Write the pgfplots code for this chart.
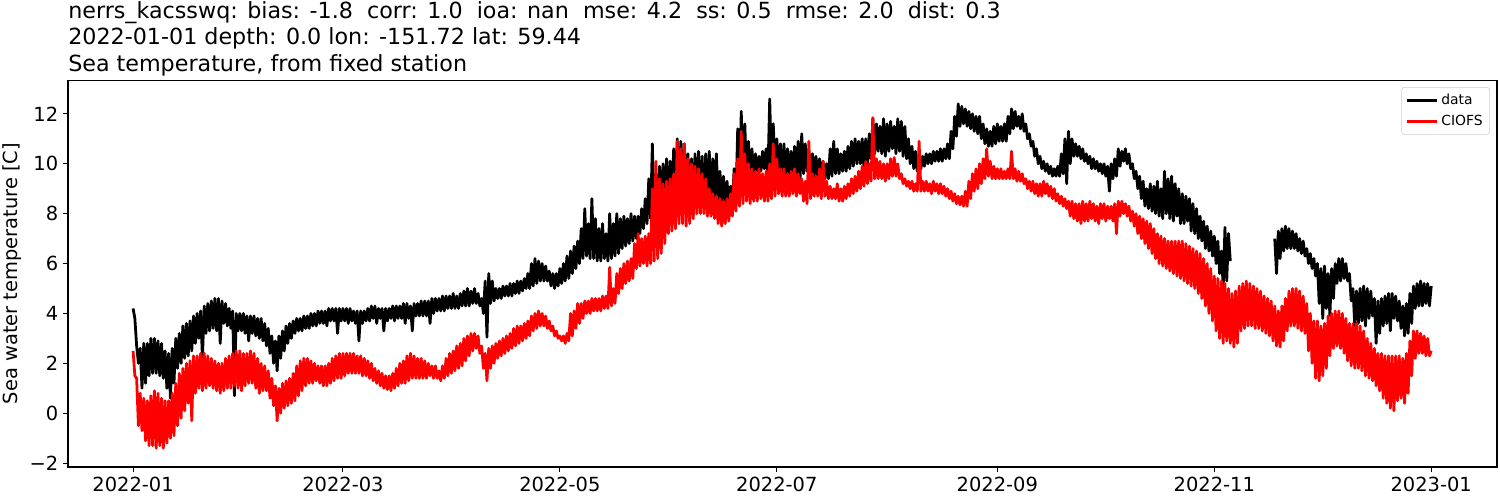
\documentclass[border=0pt]{standalone}
\usepackage{pgfplots}
\pgfplotsset{compat=1.18}
\usepackage{fontspec}
\setmainfont{DejaVu Sans}

% 1 px of the reference = 0.72pt (1500 px -> 1080pt)
% x = day of 2022; each day gives the top and the bottom of the tidal band
\begin{document}
\begin{tikzpicture}
\path (0,0) rectangle (1080pt,360pt);
\begin{axis}[
    at={(48.96pt,23.76pt)}, anchor=south west,
    scale only axis, clip mode=individual,
    width=1028.9pt, height=278.6pt,
    xmin=-18.3, xmax=383.5,
    ymin=-2.155, ymax=13.355,
    xtick={0,59,120,181,243,304,365},
    xticklabels={2022-01,2022-03,2022-05,2022-07,2022-09,2022-11,2023-01},
    ytick={-2,0,2,4,6,8,10,12},
    yticklabels={−2,0,2,4,6,8,10,12},
    tick label style={font=\fontsize{14}{16}\selectfont},
    tick align=outside, major tick length=3.5pt,
    xtick pos=bottom, ytick pos=left,
    every tick/.style={black, line width=0.8pt},
    axis line style={line width=0.8pt},
    ylabel={Sea water temperature [C]},
    ylabel style={font=\fontsize{14}{16}\selectfont, at={(rel axis cs:-0.0392,0.5)}, anchor=center},
    legend style={at={(0.995,0.982)}, anchor=north east,
      font=\fontsize{10}{12}\selectfont, draw=black!20, rounded corners=2pt,
      row sep=2pt, inner xsep=3pt, inner ysep=3pt},
    legend cell align=left,
    legend image code/.code={\draw[#1] (0pt,0pt) -- (21.6pt,0pt);},
    every axis plot/.append style={line width=2pt, line join=round},
  ]
% data (observed)
\addplot[black] coordinates {
(0,4.2) (0.5,3.8) (1,2.7) (1.5,2.0) (2,2.6) (2.5,1.0) (3,2.8) (3.5,1.2) (4,2.8) (4.5,1.5)
(5,3.0) (5.5,1.6) (6,3.0) (6.5,1.6) (7,2.9) (7.5,1.5) (8,2.8) (8.5,1.4) (9,2.5) (9.5,1.0)
(10,2.4) (10.5,0.6) (11,2.6) (11.5,1.2) (12,3.0) (12.5,1.8) (13,3.2) (13.5,2.0) (14,3.5) (14.5,2.2)
(15,3.6) (15.5,2.3) (16,3.7) (16.5,2.5) (17,3.9) (17.5,2.8) (18,4.0) (18.5,3.0) (19,4.1) (19.5,2.2)
(20,4.3) (20.5,3.2) (21,4.4) (21.5,3.3) (22,4.5) (22.5,3.4) (23,4.6) (23.5,3.3) (24,4.6) (24.5,2.8)
(25,4.5) (25.5,3.6) (26,4.4) (26.5,3.5) (27,4.2) (27.5,3.4) (28,4.1) (28.5,0.7) (29,4.0) (29.5,3.3)
(30,4.0) (30.5,3.3) (31,4.0) (31.5,3.2) (32,3.9) (32.5,2.9) (33,3.9) (33.5,3.2) (34,3.9) (34.5,3.1)
(35,3.8) (35.5,3.0) (36,3.8) (36.5,2.9) (37,3.6) (37.5,2.7) (38,3.4) (38.5,2.4) (39,3.1) (39.5,2.0)
(40,2.9) (40.5,1.7) (41,3.1) (41.5,2.2) (42,3.3) (42.5,2.5) (43,3.5) (43.5,2.8) (44,3.6) (44.5,3.0)
(45,3.7) (45.5,3.2) (46,3.8) (46.5,3.3) (47,3.8) (47.5,3.3) (48,3.9) (48.5,3.4) (49,3.9) (49.5,3.4)
(50,4.0) (50.5,3.5) (51,4.0) (51.5,3.5) (52,4.1) (52.5,3.6) (53,4.1) (53.5,3.6) (54,4.1) (54.5,3.5)
(55,4.2) (55.5,3.7) (56,4.2) (56.5,3.7) (57,4.2) (57.5,3.2) (58,4.2) (58.5,3.7) (59,4.2) (59.5,3.7)
(60,4.2) (60.5,3.6) (61,4.2) (61.5,3.7) (62,4.1) (62.5,3.6) (63,4.1) (63.5,2.9) (64,4.1) (64.5,3.6)
(65,4.1) (65.5,3.7) (66,4.2) (66.5,3.7) (67,4.3) (67.5,3.8) (68,4.3) (68.5,3.6) (69,4.2) (69.5,3.8)
(70,4.2) (70.5,3.3) (71,4.2) (71.5,3.7) (72,4.2) (72.5,3.8) (73,4.3) (73.5,3.7) (74,4.3) (74.5,3.8)
(75,4.3) (75.5,3.8) (76,4.4) (76.5,3.6) (77,4.4) (77.5,3.8) (78,4.3) (78.5,3.3) (79,4.4) (79.5,3.9)
(80,4.4) (80.5,3.9) (81,4.5) (81.5,3.9) (82,4.5) (82.5,3.9) (83,4.5) (83.5,3.6) (84,4.6) (84.5,4.0)
(85,4.6) (85.5,4.1) (86,4.6) (86.5,4.1) (87,4.7) (87.5,4.1) (88,4.7) (88.5,4.2) (89,4.7) (89.5,4.2)
(90,4.8) (90.5,4.2) (91,4.7) (91.5,4.2) (92,4.8) (92.5,4.3) (93,4.9) (93.5,4.3) (94,5.0) (94.5,4.3)
(95,4.9) (95.5,4.4) (96,5.0) (96.5,4.4) (97,4.8) (97.5,4.3) (98,4.6) (98.5,4.0) (99,5.3) (99.5,3.05)
(100,5.6) (100.5,4.4) (101,5.3) (101.5,4.5) (102,5.0) (102.5,4.6) (103,5.0) (103.5,4.6) (104,5.1) (104.5,4.7)
(105,5.1) (105.5,4.7) (106,5.2) (106.5,4.7) (107,5.2) (107.5,4.8) (108,5.3) (108.5,4.8) (109,5.3) (109.5,4.9)
(110,5.4) (110.5,5.0) (111,5.6) (111.5,5.0) (112,6.0) (112.5,5.1) (113,6.2) (113.5,5.2) (114,6.1) (114.5,5.3)
(115,6.0) (115.5,5.3) (116,5.9) (116.5,5.3) (117,5.7) (117.5,5.1) (118,5.6) (118.5,5.0) (119,5.6) (119.5,5.1)
(120,5.8) (120.5,5.2) (121,6.0) (121.5,5.3) (122,6.3) (122.5,5.4) (123,6.5) (123.5,5.6) (124,6.7) (124.5,5.8)
(125,6.9) (125.5,6.0) (126,7.4) (126.5,6.2) (127,8.2) (127.5,6.3) (128,7.6) (128.5,6.2) (129,8.6) (129.5,6.2)
(130,7.8) (130.5,6.1) (131,7.4) (131.5,6.1) (132,7.6) (132.5,6.2) (133,7.2) (133.5,6.1) (134,8.0) (134.5,6.2)
(135,7.6) (135.5,6.3) (136,8.0) (136.5,6.4) (137,7.8) (137.5,6.6) (138,7.9) (138.5,6.7) (139,7.8) (139.5,6.8)
(140,8.0) (140.5,6.9) (141,7.9) (141.5,7.0) (142,7.9) (142.5,7.2) (143,8.2) (143.5,7.4) (144,8.6) (144.5,7.6)
(145,9.4) (145.5,7.8) (146,10.8) (146.5,7.8) (147,9.6) (147.5,8.0) (148,9.9) (148.5,8.2) (149,10.0) (149.5,8.3)
(150,10.2) (150.5,8.4) (151,10.1) (151.5,8.5) (152,10.6) (152.5,8.6) (153,11.0) (153.5,8.7) (154,10.9) (154.5,8.8)
(155,10.8) (155.5,8.7) (156,10.4) (156.5,8.5) (157,10.2) (157.5,8.3) (158,10.4) (158.5,8.2) (159,10.5) (159.5,8.2)
(160,10.3) (160.5,8.3) (161,10.4) (161.5,8.4) (162,10.5) (162.5,8.5) (163,10.2) (163.5,8.6) (164,10.4) (164.5,8.5)
(165,9.7) (165.5,8.5) (166,9.5) (166.5,8.4) (167,9.3) (167.5,8.3) (168,9.1) (168.5,8.3) (169,9.8) (169.5,8.5)
(170,11.4) (170.5,8.9) (171,12.1) (171.5,9.2) (172,11.6) (172.5,9.4) (173,10.9) (173.5,9.6) (174,10.6) (174.5,9.6)
(175,10.4) (175.5,9.7) (176,10.3) (176.5,9.7) (177,10.5) (177.5,9.8) (178,10.6) (178.5,9.6) (179,12.6) (179.5,9.7)
(180,11.6) (180.5,9.8) (181,11.0) (181.5,9.4) (182,10.8) (182.5,9.2) (183,10.8) (183.5,9.5) (184,10.6) (184.5,9.6)
(185,10.5) (185.5,9.5) (186,10.7) (186.5,9.4) (187,10.9) (187.5,9.3) (188,11.2) (188.5,9.6) (189,10.8) (189.5,9.7)
(190,10.5) (190.5,9.6) (191,10.4) (191.5,9.5) (192,10.3) (192.5,9.5) (193,10.2) (193.5,9.5) (194,10.1) (194.5,9.4)
(195,10.0) (195.5,9.4) (196,10.6) (196.5,9.5) (197,10.9) (197.5,9.6) (198,10.6) (198.5,9.6) (199,10.4) (199.5,9.7)
(200,10.5) (200.5,9.7) (201,10.7) (201.5,9.8) (202,10.9) (202.5,9.9) (203,11.0) (203.5,10.0) (204,10.9) (204.5,10.0)
(205,11.0) (205.5,9.8) (206,11.0) (206.5,9.9) (207,11.2) (207.5,10.2) (208,11.8) (208.5,10.4) (209,11.6) (209.5,10.5)
(210,11.5) (210.5,10.4) (211,11.8) (211.5,10.3) (212,11.6) (212.5,10.5) (213,11.7) (213.5,10.6) (214,11.5) (214.5,10.4)
(215,11.8) (215.5,10.5) (216,11.7) (216.5,10.3) (217,11.5) (217.5,10.2) (218,11.0) (218.5,10.0) (219,10.7) (219.5,9.8)
(220,10.5) (220.5,9.7) (221,10.4) (221.5,9.8) (222,10.3) (222.5,9.9) (223,10.4) (223.5,10.0) (224,10.4) (224.5,10.0)
(225,10.5) (225.5,10.1) (226,10.5) (226.5,10.1) (227,10.6) (227.5,10.1) (228,10.6) (228.5,10.2) (229,10.8) (229.5,10.2)
(230,11.3) (230.5,10.6) (231,11.9) (231.5,11.1) (232,12.4) (232.5,11.5) (233,12.3) (233.5,11.6) (234,12.2) (234.5,11.5)
(235,12.1) (235.5,11.4) (236,12.0) (236.5,11.3) (237,11.9) (237.5,11.2) (238,11.9) (238.5,11.0) (239,11.6) (239.5,10.8)
(240,11.4) (240.5,10.7) (241,11.3) (241.5,10.7) (242,11.5) (242.5,10.8) (243,11.6) (243.5,10.9) (244,11.5) (244.5,10.9)
(245,11.6) (245.5,10.9) (246,11.9) (246.5,11.2) (247,12.2) (247.5,11.4) (248,12.1) (248.5,11.5) (249,11.9) (249.5,11.4)
(250,12.0) (250.5,11.3) (251,11.6) (251.5,11.0) (252,11.2) (252.5,10.7) (253,10.9) (253.5,10.3) (254,10.6) (254.5,10.0)
(255,10.3) (255.5,9.8) (256,10.1) (256.5,9.7) (257,10.0) (257.5,9.6) (258,9.9) (258.5,9.5) (259,9.8) (259.5,9.5)
(260,9.9) (260.5,9.5) (261,10.4) (261.5,9.6) (262,11.0) (262.5,9.2) (263,11.3) (263.5,10.0) (264,11.0) (264.5,10.3)
(265,10.8) (265.5,10.3) (266,10.7) (266.5,10.2) (267,10.6) (267.5,10.1) (268,10.4) (268.5,10.0) (269,10.3) (269.5,9.8)
(270,10.2) (270.5,9.8) (271,10.1) (271.5,9.7) (272,10.0) (272.5,9.6) (273,10.0) (273.5,9.5) (274,9.9) (274.5,8.9)
(275,10.0) (275.5,9.4) (276,10.2) (276.5,9.5) (277,10.6) (277.5,9.9) (278,10.5) (278.5,10.1) (279,10.6) (279.5,10.0)
(280,10.4) (280.5,9.8) (281,10.0) (281.5,9.4) (282,9.7) (282.5,9.0) (283,9.5) (283.5,8.6) (284,9.3) (284.5,8.3)
(285,9.0) (285.5,8.2) (286,9.2) (286.5,8.1) (287,9.1) (287.5,8.0) (288,9.3) (288.5,7.9) (289,9.0) (289.5,7.8)
(290,9.7) (290.5,8.0) (291,9.4) (291.5,7.8) (292,9.5) (292.5,7.7) (293,9.2) (293.5,7.9) (294,9.0) (294.5,7.6)
(295,8.8) (295.5,7.6) (296,8.7) (296.5,7.7) (297,8.6) (297.5,7.3) (298,8.4) (298.5,7.2) (299,8.2) (299.5,7.0)
(300,7.9) (300.5,6.9) (301,7.7) (301.5,6.6) (302,7.5) (302.5,6.5) (303,7.3) (303.5,6.3) (304,7.1) (304.5,6.0)
(305,6.9) (305.5,5.6) (306,6.5) (306.5,5.05) (307,7.45) (307.5,5.3) (308,7.2) (308.5,6.1)
};
\addlegendentry{data}
\addplot[black, forget plot] coordinates {
(321,7.0) (321.5,5.6) (322,7.3) (322.5,6.2) (323,7.4) (323.5,6.5) (324,7.5) (324.5,6.6)
(325,7.4) (325.5,6.6) (326,7.3) (326.5,6.6) (327,7.2) (327.5,6.5) (328,7.0) (328.5,6.4) (329,6.9) (329.5,6.3)
(330,6.6) (330.5,6.0) (331,6.4) (331.5,5.8) (332,6.2) (332.5,5.5) (333,6.0) (333.5,4.4) (334,5.8) (334.5,3.8)
(335,5.9) (335.5,4.2) (336,5.6) (336.5,3.9) (337,5.8) (337.5,4.6) (338,6.0) (338.5,5.2) (339,6.2) (339.5,5.3)
(340,6.2) (340.5,5.4) (341,6.0) (341.5,5.3) (342,5.6) (342.5,4.5) (343,5.0) (343.5,3.5) (344,4.9) (344.5,3.6)
(345,5.0) (345.5,3.7) (346,5.1) (346.5,3.5) (347,5.0) (347.5,3.8) (348,4.9) (348.5,3.9) (349,4.6) (349.5,2.8)
(350,4.5) (350.5,3.2) (351,4.6) (351.5,3.5) (352,4.7) (352.5,3.6) (353,4.8) (353.5,3.3) (354,4.8) (354.5,3.8)
(355,4.7) (355.5,3.7) (356,4.5) (356.5,3.4) (357,4.3) (357.5,3.1) (358,4.4) (358.5,3.2) (359,4.8) (359.5,3.6)
(360,5.1) (360.5,4.2) (361,5.2) (361.5,4.3) (362,5.3) (362.5,4.3) (363,5.2) (363.5,4.4) (364,5.2) (364.5,4.3) (365,5.1)
};
% CIOFS model
\addplot[red] coordinates {
(0,2.5) (0.5,1.5) (1,1.4) (1.5,-0.5) (2,0.8) (2.5,-0.7) (3,0.6) (3.5,-1.1) (4,0.5) (4.5,-1.3)
(5,0.7) (5.5,-1.3) (6,0.9) (6.5,-1.4) (7,0.8) (7.5,-1.3) (8,0.6) (8.5,-1.4) (9,0.5) (9.5,-1.2)
(10,0.5) (10.5,-1.0) (11,0.8) (11.5,-0.9) (12,1.2) (12.5,-0.5) (13,1.6) (13.5,-0.2) (14,1.8) (14.5,0.1)
(15,2.0) (15.5,0.4) (16,2.1) (16.5,-0.3) (17,2.3) (17.5,0.8) (18,2.3) (18.5,1.0) (19,2.4) (19.5,0.9)
(20,2.4) (20.5,1.0) (21,2.3) (21.5,1.1) (22,2.2) (22.5,1.0) (23,2.1) (23.5,0.9) (24,2.0) (24.5,0.8)
(25,2.0) (25.5,0.9) (26,2.2) (26.5,1.0) (27,2.3) (27.5,1.0) (28,2.4) (28.5,1.1) (29,2.5) (29.5,1.0)
(30,2.5) (30.5,0.9) (31,2.4) (31.5,1.1) (32,2.4) (32.5,1.2) (33,2.5) (33.5,1.2) (34,2.4) (34.5,1.0)
(35,2.2) (35.5,0.8) (36,2.0) (36.5,0.9) (37,1.9) (37.5,0.9) (38,1.7) (38.5,0.6) (39,1.4) (39.5,0.3)
(40,1.1) (40.5,-0.3) (41,1.0) (41.5,0.0) (42,1.2) (42.5,0.2) (43,1.3) (43.5,0.3) (44,1.4) (44.5,0.4)
(45,1.6) (45.5,0.5) (46,1.9) (46.5,0.7) (47,2.1) (47.5,0.9) (48,2.2) (48.5,1.1) (49,2.2) (49.5,1.2)
(50,2.1) (50.5,1.2) (51,2.0) (51.5,1.3) (52,1.9) (52.5,1.2) (53,1.9) (53.5,1.1) (54,1.9) (54.5,1.1)
(55,2.0) (55.5,1.2) (56,2.2) (56.5,1.3) (57,2.3) (57.5,1.4) (58,2.4) (58.5,1.4) (59,2.4) (59.5,1.5)
(60,2.4) (60.5,1.6) (61,2.4) (61.5,1.6) (62,2.4) (62.5,1.6) (63,2.3) (63.5,1.6) (64,2.3) (64.5,1.5)
(65,2.2) (65.5,1.5) (66,2.1) (66.5,1.4) (67,2.0) (67.5,1.3) (68,1.8) (68.5,1.2) (69,1.7) (69.5,1.1)
(70,1.6) (70.5,1.0) (71,1.5) (71.5,0.95) (72,1.5) (72.5,0.9) (73,1.6) (73.5,1.0) (74,1.8) (74.5,1.1)
(75,2.0) (75.5,1.2) (76,2.1) (76.5,1.2) (77,2.3) (77.5,1.3) (78,2.4) (78.5,1.4) (79,2.3) (79.5,1.4)
(80,2.2) (80.5,1.4) (81,2.2) (81.5,1.4) (82,2.1) (82.5,1.4) (83,2.0) (83.5,1.5) (84,1.9) (84.5,1.4)
(85,1.9) (85.5,1.4) (86,1.7) (86.5,1.3) (87,1.9) (87.5,1.4) (88,2.2) (88.5,1.5) (89,2.4) (89.5,1.6)
(90,2.5) (90.5,1.7) (91,2.7) (91.5,1.8) (92,2.8) (92.5,1.9) (93,3.0) (93.5,2.1) (94,3.1) (94.5,2.3)
(95,3.2) (95.5,2.5) (96,3.2) (96.5,2.6) (97,3.1) (97.5,2.4) (98,2.7) (98.5,1.8) (99,2.4) (99.5,1.3)
(100,2.6) (100.5,1.8) (101,2.7) (101.5,2.0) (102,2.8) (102.5,2.2) (103,2.9) (103.5,2.3) (104,3.0) (104.5,2.4)
(105,3.1) (105.5,2.5) (106,3.2) (106.5,2.6) (107,3.4) (107.5,2.7) (108,3.5) (108.5,2.8) (109,3.5) (109.5,2.9)
(110,3.6) (110.5,3.0) (111,3.7) (111.5,3.1) (112,3.9) (112.5,3.3) (113,4.0) (113.5,3.4) (114,4.1) (114.5,3.5)
(115,4.0) (115.5,3.5) (116,3.9) (116.5,3.4) (117,3.7) (117.5,3.3) (118,3.5) (118.5,3.1) (119,3.3) (119.5,3.0)
(120,3.1) (120.5,2.9) (121,3.1) (121.5,2.8) (122,3.2) (122.5,2.9) (123,4.0) (123.5,3.1) (124,4.1) (124.5,3.4)
(125,4.4) (125.5,3.6) (126,4.4) (126.5,3.8) (127,4.5) (127.5,4.0) (128,4.5) (128.5,4.0) (129,4.6) (129.5,4.1)
(130,4.6) (130.5,4.1) (131,4.6) (131.5,4.1) (132,4.7) (132.5,4.2) (133,4.7) (133.5,4.2) (134,5.85) (134.5,4.3)
(135,5.0) (135.5,4.4) (136,5.6) (136.5,4.8) (137,5.8) (137.5,5.0) (138,6.0) (138.5,5.2) (139,6.1) (139.5,5.3)
(140,6.2) (140.5,5.4) (141,6.8) (141.5,5.8) (142,7.2) (142.5,5.9) (143,7.0) (143.5,6.0) (144,7.1) (144.5,5.9)
(145,7.2) (145.5,6.0) (146,9.0) (146.5,6.1) (147,10.1) (147.5,6.2) (148,9.4) (148.5,6.4) (149,9.2) (149.5,6.8)
(150,9.3) (150.5,7.2) (151,9.4) (151.5,7.3) (152,9.6) (152.5,7.4) (153,10.9) (153.5,7.6) (154,10.6) (154.5,7.6)
(155,10.8) (155.5,7.5) (156,10.2) (156.5,7.6) (157,10.0) (157.5,7.8) (158,9.9) (158.5,8.0) (159,9.8) (159.5,8.0)
(160,9.6) (160.5,8.0) (161,9.4) (161.5,7.9) (162,9.0) (162.5,7.9) (163,8.8) (163.5,7.8) (164,8.7) (164.5,7.6)
(165,8.6) (165.5,7.5) (166,8.5) (166.5,7.6) (167,8.6) (167.5,7.7) (168,8.8) (168.5,7.9) (169,9.6) (169.5,8.1)
(170,10.2) (170.5,8.3) (171,11.3) (171.5,8.4) (172,10.4) (172.5,8.5) (173,10.0) (173.5,8.4) (174,9.8) (174.5,8.5)
(175,9.7) (175.5,8.5) (176,9.8) (176.5,8.6) (177,9.6) (177.5,8.5) (178,9.7) (178.5,8.5) (179,10.0) (179.5,8.6)
(180,10.8) (180.5,8.7) (181,10.2) (181.5,8.8) (182,9.8) (182.5,8.7) (183,9.8) (183.5,8.7) (184,9.6) (184.5,8.7)
(185,9.7) (185.5,8.8) (186,9.8) (186.5,8.7) (187,9.6) (187.5,8.8) (188,9.4) (188.5,8.5) (189,9.3) (189.5,8.4)
(190,10.9) (190.5,8.6) (191,9.6) (191.5,8.7) (192,9.5) (192.5,8.7) (193,9.8) (193.5,8.6) (194,10.1) (194.5,8.7)
(195,9.3) (195.5,8.6) (196,9.1) (196.5,8.6) (197,9.0) (197.5,8.6) (198,9.2) (198.5,8.5) (199,9.0) (199.5,8.5)
(200,9.1) (200.5,8.6) (201,9.2) (201.5,8.7) (202,9.4) (202.5,8.8) (203,9.5) (203.5,8.9) (204,9.7) (204.5,9.0)
(205,9.9) (205.5,9.1) (206,10.1) (206.5,9.2) (207,10.0) (207.5,9.3) (208,11.85) (208.5,9.4) (209,10.2) (209.5,9.4)
(210,10.1) (210.5,9.4) (211,10.0) (211.5,9.3) (212,10.0) (212.5,9.4) (213,10.2) (213.5,9.5) (214,10.25) (214.5,9.5)
(215,10.0) (215.5,9.4) (216,9.6) (216.5,9.2) (217,9.4) (217.5,9.1) (218,9.3) (218.5,9.0) (219,9.3) (219.5,8.9)
(220,9.2) (220.5,8.9) (221,10.9) (221.5,8.9) (222,9.3) (222.5,8.9) (223,9.3) (223.5,8.9) (224,9.2) (224.5,8.8)
(225,9.3) (225.5,8.9) (226,9.2) (226.5,8.8) (227,9.2) (227.5,8.8) (228,9.1) (228.5,8.7) (229,9.0) (229.5,8.6)
(230,8.9) (230.5,8.5) (231,8.8) (231.5,8.4) (232,8.7) (232.5,8.35) (233,8.7) (233.5,8.3) (234,8.9) (234.5,8.3)
(235,9.3) (235.5,8.6) (236,9.6) (236.5,8.9) (237,9.8) (237.5,9.0) (238,10.0) (238.5,9.2) (239,10.2) (239.5,9.4)
(240,10.6) (240.5,9.5) (241,10.1) (241.5,9.4) (242,9.9) (242.5,9.4) (243,9.8) (243.5,9.4) (244,9.8) (244.5,9.4)
(245,9.7) (245.5,9.4) (246,9.8) (246.5,9.4) (247,10.5) (247.5,9.4) (248,9.8) (248.5,9.3) (249,9.7) (249.5,9.3)
(250,9.6) (250.5,9.2) (251,9.4) (251.5,9.0) (252,9.3) (252.5,8.9) (253,9.3) (253.5,8.8) (254,9.2) (254.5,8.7)
(255,9.2) (255.5,8.7) (256,9.3) (256.5,8.8) (257,9.2) (257.5,8.7) (258,9.1) (258.5,8.6) (259,9.0) (259.5,8.5)
(260,8.8) (260.5,8.4) (261,8.7) (261.5,8.3) (262,8.6) (262.5,8.2) (263,8.5) (263.5,7.9) (264,8.5) (264.5,7.8)
(265,8.4) (265.5,7.7) (266,8.4) (266.5,7.6) (267,8.5) (267.5,7.7) (268,8.4) (268.5,7.7) (269,8.5) (269.5,7.8)
(270,8.4) (270.5,7.7) (271,8.3) (271.5,7.6) (272,8.4) (272.5,7.8) (273,8.4) (273.5,7.7) (274,8.3) (274.5,7.8)
(275,8.3) (275.5,7.7) (276,8.4) (276.5,7.2) (277,8.5) (277.5,7.9) (278,8.5) (278.5,8.0) (279,8.4) (279.5,7.9)
(280,8.3) (280.5,7.7) (281,8.1) (281.5,7.5) (282,8.0) (282.5,7.2) (283,7.9) (283.5,7.0) (284,7.8) (284.5,6.8)
(285,7.7) (285.5,6.6) (286,7.6) (286.5,6.4) (287,7.4) (287.5,6.2) (288,7.2) (288.5,6.0) (289,7.1) (289.5,5.9)
(290,7.0) (290.5,5.8) (291,6.9) (291.5,5.7) (292,6.9) (292.5,5.6) (293,6.9) (293.5,5.5) (294,6.9) (294.5,5.4)
(295,6.9) (295.5,5.3) (296,6.8) (296.5,5.2) (297,6.7) (297.5,5.1) (298,6.6) (298.5,5.0) (299,6.5) (299.5,4.8)
(300,6.4) (300.5,4.6) (301,6.2) (301.5,4.3) (302,6.0) (302.5,4.0) (303,5.8) (303.5,3.7) (304,5.5) (304.5,3.3)
(305,5.4) (305.5,3.0) (306,5.3) (306.5,2.8) (307,5.2) (307.5,2.9) (308,5.0) (308.5,2.8) (309,4.8) (309.5,2.65)
(310,4.9) (310.5,2.8) (311,5.1) (311.5,3.3) (312,5.2) (312.5,3.4) (313,5.3) (313.5,3.5) (314,5.2) (314.5,3.5)
(315,5.1) (315.5,3.4) (316,5.0) (316.5,3.4) (317,4.9) (317.5,3.3) (318,4.7) (318.5,3.2) (319,4.6) (319.5,3.1)
(320,4.5) (320.5,2.9) (321,4.3) (321.5,2.7) (322,4.1) (322.5,2.65) (323,4.3) (323.5,2.9) (324,4.6) (324.5,3.3)
(325,4.9) (325.5,3.5) (326,5.0) (326.5,3.5) (327,5.0) (327.5,3.4) (328,4.9) (328.5,3.3) (329,4.7) (329.5,3.2)
(330,4.4) (330.5,2.5) (331,4.0) (331.5,2.0) (332,3.7) (332.5,1.4) (333,3.7) (333.5,1.3) (334,3.5) (334.5,1.5)
(335,3.6) (335.5,1.8) (336,3.9) (336.5,2.3) (337,4.0) (337.5,2.6) (338,4.1) (338.5,2.7) (339,4.1) (339.5,2.6)
(340,4.0) (340.5,2.4) (341,3.8) (341.5,2.1) (342,3.6) (342.5,1.9) (343,3.6) (343.5,1.8) (344,3.6) (344.5,1.8)
(345,3.5) (345.5,1.7) (346,3.3) (346.5,1.5) (347,3.0) (347.5,1.4) (348,2.8) (348.5,1.3) (349,2.6) (349.5,1.1)
(350,2.4) (350.5,0.9) (351,2.4) (351.5,0.6) (352,2.3) (352.5,0.4) (353,2.3) (353.5,0.2) (354,2.3) (354.5,0.1)
(355,2.3) (355.5,0.5) (356,2.3) (356.5,0.6) (357,2.2) (357.5,0.4) (358,2.4) (358.5,0.8) (359,2.9) (359.5,1.5)
(360,3.3) (360.5,2.2) (361,3.3) (361.5,2.4) (362,3.2) (362.5,2.4) (363,3.1) (363.5,2.3) (364,3.0) (364.5,2.3) (365,2.5)
};
\addlegendentry{CIOFS}
\node[anchor=base west, inner sep=0pt, font=\fontsize{16}{19}\selectfont] at (rel axis cs:0,1) [yshift=44.6pt]
  {nerrs\_kacsswq: bias: -1.8\ \ corr: 1.0\ \ ioa: nan\ \ mse: 4.2\ \ ss: 0.5\ \ rmse: 2.0\ \ dist: 0.3};
\node[anchor=base west, inner sep=0pt, font=\fontsize{16}{19}\selectfont] at (rel axis cs:0,1) [yshift=25.6pt]
  {2022-01-01 depth: 0.0 lon: -151.72 lat: 59.44};
\node[anchor=base west, inner sep=0pt, font=\fontsize{16}{19}\selectfont] at (rel axis cs:0,1) [yshift=6.5pt]
  {Sea temperature, from fixed station};
\end{axis}
\pgfresetboundingbox
\path[use as bounding box] (0,0) rectangle (1080pt,360pt);
\end{tikzpicture}
\end{document}
